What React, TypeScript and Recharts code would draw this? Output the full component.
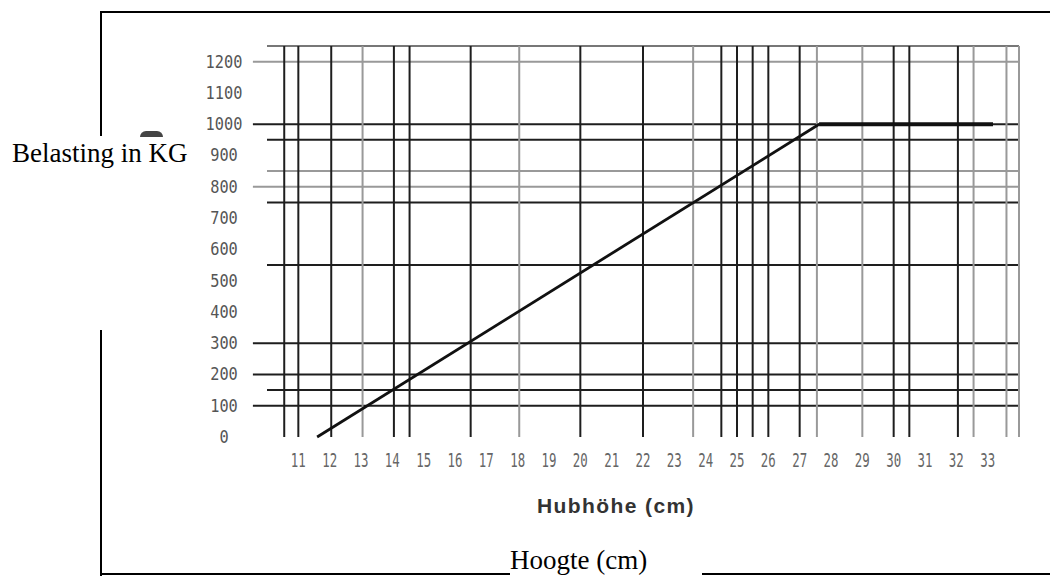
import { Line, LineChart, ReferenceLine, XAxis, YAxis } from "recharts";

// x tick labels (cm) and y tick labels (kg)
const xTicks = [11, 12, 13, 14, 15, 16, 17, 18, 19, 20, 21, 22, 23, 24, 25, 26, 27, 28, 29, 30, 31, 32, 33];
const yTicks = [0, 100, 200, 300, 400, 500, 600, 700, 800, 900, 1000, 1100, 1200];

// the load curve: rising part and the flat part at 1000 kg
const slope = [
  { x: 11.6, y: 0 },
  { x: 27.62, y: 1000 },
];
const plateau = [
  { x: 27.62, y: 1000 },
  { x: 33.17, y: 1000 },
];

// irregular grid of the scanned chart
const darkV = [10.55, 11, 12.05, 14.05, 14.55, 16.5, 20, 22, 24.5, 25, 25.5, 26, 27, 30, 30.5, 32.05];
const lightV = [13.05, 18.05, 23.6, 27.55, 29, 32.55, 33.6, 34];
const darkH = [1000, 950, 750, 550, 300, 200, 150, 100];
const lightH = [1200, 850, 800];
const longH = [1200, 1000, 800, 300, 200, 100];

const DARK = "#1e1e1e";
const LIGHT = "#999";

function YTick({ x, y, payload }: any) {
  return (
    <text transform={`translate(${x - 43},${y + 6}) scale(0.85,1)`} textAnchor="middle" fontFamily="DejaVu Sans Mono" fontSize={18} fill="#555">
      {payload.value}
    </text>
  );
}

function XTick({ x, y, payload }: any) {
  return (
    <text transform={`translate(${x},${y + 30}) scale(0.62,1)`} textAnchor="middle" fontFamily="DejaVu Sans Mono" fontSize={20} fill="#666">
      {payload.value}
    </text>
  );
}

function hLine(v: number, stroke: string) {
  const start = longH.includes(v) ? 9.55 : 10;
  return (
    <ReferenceLine
      key={"h" + v}
      segment={[{ x: start, y: v }, { x: 34, y: v }]}
      ifOverflow="visible"
      stroke={stroke}
      strokeWidth={2}
    />
  );
}

const line = (style: React.CSSProperties) => <div style={{ position: "absolute", background: "#000", ...style }} />;

export default function App() {
  return (
    <div style={{ position: "absolute", left: 0, top: 0, width: 1050, height: 576, overflow: "hidden", background: "#fff" }}>
      {line({ left: 100, top: 11, width: 950, height: 2 })}
      {line({ left: 100, top: 11, width: 2, height: 125 })}
      {line({ left: 100, top: 330, width: 2, height: 246 })}
      {line({ left: 100, top: 573, width: 410, height: 2 })}
      {line({ left: 702, top: 573, width: 348, height: 2 })}
      <div style={{ position: "absolute", left: 140, top: 131, width: 23, height: 6, background: "#444", borderRadius: "6px 6px 0 0" }} />

      <div style={{ position: "absolute", left: 0, top: 0 }}>
        <LineChart width={1050} height={576} margin={{ top: 46, right: 31, bottom: 109, left: 207 }}>
          <XAxis
            type="number"
            dataKey="x"
            domain={[10, 34]}
            ticks={xTicks}
            interval={0}
            height={30}
            axisLine={false}
            tickLine={false}
            tickSize={0}
            tickMargin={0}
            tick={<XTick />}
          />
          <YAxis
            type="number"
            dataKey="y"
            domain={[0, 1250]}
            ticks={yTicks}
            interval={0}
            width={60}
            axisLine={false}
            tickLine={false}
            tickSize={0}
            tickMargin={0}
            tick={<YTick />}
          />
          <ReferenceLine y={1250} stroke="#777" strokeWidth={2} />
          {lightH.map((v) => hLine(v, LIGHT))}
          {darkH.map((v) => hLine(v, DARK))}
          {lightV.map((v) => (
            <ReferenceLine key={"lv" + v} x={v} stroke={LIGHT} strokeWidth={2} />
          ))}
          {darkV.map((v) => (
            <ReferenceLine key={"dv" + v} x={v} stroke={DARK} strokeWidth={2} />
          ))}
          <Line data={slope} dataKey="y" type="linear" stroke="#111" strokeWidth={2.8} dot={false} isAnimationActive={false} />
          <Line data={plateau} dataKey="y" type="linear" stroke="#111" strokeWidth={4} dot={false} isAnimationActive={false} />
        </LineChart>
      </div>

      <div style={{ position: "absolute", left: 12, top: 140, fontFamily: "Liberation Serif", fontSize: 27, lineHeight: 1, whiteSpace: "nowrap", color: "#000" }}>
        Belasting in KG
      </div>
      <div style={{ position: "absolute", left: 537, top: 495, fontFamily: "Liberation Sans", fontWeight: "bold", fontSize: 21, letterSpacing: 1.4, lineHeight: 1, whiteSpace: "nowrap", color: "#333" }}>
        Hubhöhe (cm)
      </div>
      <div style={{ position: "absolute", left: 510, top: 547, fontFamily: "Liberation Serif", fontSize: 27, lineHeight: 1, whiteSpace: "nowrap", color: "#000" }}>
        Hoogte (cm)
      </div>
    </div>
  );
}
